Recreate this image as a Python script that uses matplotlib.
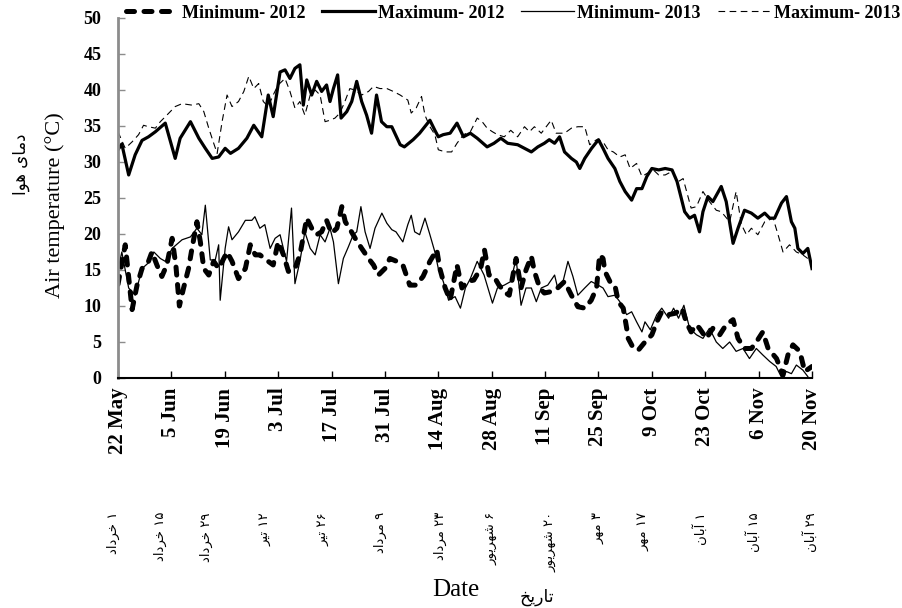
import matplotlib
matplotlib.use("Agg")
import matplotlib.pyplot as plt
import matplotlib.transforms as mtransforms

# ---------------- data (day 0 = 22 May) ----------------
tick_days = [0, 14, 28, 42, 56, 70, 84, 98, 112, 126, 140, 154, 168, 182]
tick_labels = ["22 May", "5 Jun", "19 Jun", "3 Jul", "17 Jul", "31 Jul", "14 Aug",
               "28 Aug", "11 Sep", "25 Sep", "9 Oct", "23 Oct", "6 Nov", "20 Nov"]
persian_labels = ["۱ خرداد", "۱۵ خرداد", "۲۹ خرداد", "۱۲ تیر", "۲۶ تیر", "۹ مرداد",
                  "۲۳ مرداد", "۶ شهریور", "۲۰ شهریور", "۳ مهر", "۱۷ مهر", "۱ آبان",
                  "۱۵ آبان", "۲۹ آبان"]
y_ticks = [0, 5, 10, 15, 20, 25, 30, 35, 40, 45, 50]

max2012_day = [0, 1.0, 2.8, 4.5, 6.3, 8.0, 9.8, 12.4, 15.0, 16.3, 19.0, 21.2, 22.9, 24.7, 26.4,
               28.1, 29.5, 31.6, 33.8, 35.6,
               37.7, 39.4, 40.7, 42.5, 43.8, 45.1, 46.4, 47.7, 48.6, 49.5, 50.8, 52.1, 53.4, 54.7,
               55.6, 56.5, 57.6, 58.5, 60.0, 61.3, 62.6, 63.9, 65.2, 66.5, 67.8, 69.1, 70.5, 71.8, 74.0,
               75.1, 77.4, 79.1, 81.8, 83.1, 84.0, 85.3, 87.1, 88.9, 90.6, 92.4, 94.2, 96.8, 98.6,
               100.4, 102.2, 104.8, 106.6, 108.4, 110.1,
               111.8, 113.1, 114.5, 115.8, 117.1, 118.9, 120.2, 121.1, 122.4, 124.2, 126.0, 127.2,
               128.5, 130.3, 131.6, 133.0, 134.7, 136.0, 137.4, 138.7, 140.0, 141.8, 143.5, 145.3, 146.6,
               147.7, 148.6, 149.9, 151.2, 152.5, 153.4, 154.7, 156.0, 158.2, 159.5, 161.3, 162.6,
               164.3, 166.1, 167.8, 169.6, 170.9, 172.2, 174.0, 175.3, 176.6, 177.5, 178.3, 179.6,
               180.9, 182]
max2012_val = [31.7, 32.5, 28.2, 31.0, 33.0, 33.5, 34.2, 35.4, 30.5, 33.3, 35.6, 33.3, 31.9, 30.5, 30.7,
               31.9, 31.2, 31.9, 33.3, 35.1,
               33.5, 39.3, 36.3, 42.5, 42.8, 41.6, 43.0, 43.5, 37.9, 41.4, 39.3, 41.2, 39.8, 40.7,
               38.4, 40.2, 42.1, 36.1, 37.0, 38.4, 41.2, 38.4, 36.5, 34.0, 39.3, 35.6, 34.9, 34.9, 32.4,
               32.1, 33.1, 34.0, 35.8, 34.4, 33.5, 33.8, 34.0, 35.4, 33.5, 34.0, 33.3, 32.1, 32.6,
               33.3, 32.6, 32.4, 31.9, 31.4, 32.1,
               32.6, 33.1, 32.6, 33.5, 31.4, 30.5, 30.0, 29.1, 30.5, 31.9, 33.1, 31.9,
               30.5, 29.1, 27.3, 25.9, 24.7, 26.3, 26.3, 28.0, 29.1, 28.9, 29.1, 28.9, 27.3,
               25.0, 23.1, 22.2, 22.6, 20.3, 23.1, 25.2, 24.5, 26.6, 24.5, 18.7, 20.8,
               23.3, 22.9, 22.2, 22.9, 22.2, 22.2, 24.3, 25.2, 21.7, 20.8, 18.0, 17.3,
               18.0, 15.2]

max2013_day = [0, 1.9, 3.7, 5.4, 6.7, 8.0, 9.8, 11.1, 12.8, 15.0, 16.8, 19.4, 21.2, 22.5, 23.8,
               25.1, 26.0, 27.3, 28.6, 29.9, 31.6, 33.0, 34.3, 35.6, 36.9,
               38.1, 39.4, 40.7, 42.0, 43.8, 45.1, 46.4, 47.7, 49.0, 50.4, 51.7, 53.0, 54.3, 55.6,
               56.9, 58.2, 59.5, 60.8, 62.1, 63.9, 65.7, 67.0, 68.7, 70.5, 72.2, 74.0,
               76.0, 76.9, 78.2, 79.6, 80.5, 81.8, 83.1, 84.0, 85.8, 87.5, 88.9, 90.6, 92.4, 94.2,
               95.5, 96.8, 98.2, 99.5, 101.3, 103.0, 104.8, 106.6, 107.9, 109.2, 111.0,
               113.6, 114.9, 117.1, 118.9, 120.6, 122.4, 123.7, 125.5, 127.2, 128.5, 129.9, 131.6,
               133.0, 134.3, 136.0, 137.4, 138.7, 140.4, 141.8, 143.5, 145.3, 147.0,
               148.2, 150.3, 151.7, 153.4, 155.1, 156.9, 158.2, 160.4, 162.1, 163.5, 164.8, 166.1,
               167.8, 169.6, 171.8, 173.1, 174.4, 176.1, 177.9, 179.6, 180.9]
max2013_val = [34.2, 31.9, 32.8, 33.8, 35.1, 34.9, 34.7, 35.6, 36.5, 37.7, 38.1, 37.9, 38.1, 37.0, 34.7,
               32.6, 31.2, 35.6, 39.3, 37.7, 38.4, 39.8, 41.9, 40.2, 40.9,
               38.4, 37.7, 39.3, 40.7, 41.6, 39.8, 37.5, 38.4, 36.5, 39.3, 40.0, 39.3, 35.6, 35.8,
               36.1, 36.8, 38.4, 40.2, 40.0, 39.3, 39.8, 40.5, 40.2, 40.2, 39.8, 39.3,
               38.6, 36.8, 37.5, 39.1, 36.5, 34.9, 33.8, 31.7, 31.4, 31.4, 32.6, 33.8, 34.2, 36.1,
               35.6, 34.7, 34.2, 33.8, 33.5, 34.4, 33.5, 34.9, 34.2, 34.9, 34.0,
               35.8, 34.0, 34.0, 34.7, 34.9, 34.9, 32.4, 33.1, 32.8, 31.7, 31.4, 30.7,
               31.0, 29.1, 29.8, 28.0, 28.4, 28.9, 28.2, 28.2, 28.7, 27.3,
               27.7, 23.6, 23.8, 25.9, 24.5, 23.3, 23.1, 21.7, 25.9, 21.3, 19.9, 20.8,
               19.9, 21.7, 22.2, 19.9, 17.5, 18.5, 17.5, 17.1, 16.6]

min2012_day = [0, 1.9, 3.7, 5.0, 6.3, 8.0, 8.9, 10.2, 11.5, 12.8, 14.2, 15.2, 16.1, 17.2, 18.5,
               19.4, 20.7, 21.6, 22.5, 23.8, 25.1, 26.4, 28.6, 29.9, 31.6, 33.4, 34.7, 36.0,
               37.2, 39.4, 40.7, 42.0, 43.4, 44.7, 46.4, 47.7, 49.5, 50.8, 52.1, 53.4, 54.7, 56.0,
               57.4, 58.7, 59.6, 60.9, 62.2, 63.9, 65.7, 67.0, 68.3, 70.0, 71.3, 73.1,
               74.7, 76.5, 78.2, 80.0, 81.8, 83.6, 84.4, 85.8, 87.1, 88.9, 90.2, 91.5, 93.3, 95.1,
               96.1, 97.3, 98.6, 99.9, 101.7, 102.6, 104.4, 105.7, 107.0, 108.4, 109.2, 110.6,
               111.8, 113.6, 115.3, 117.1, 118.9, 120.6, 122.4, 124.1, 125.5, 126.3, 127.2, 127.7,
               129.0, 130.3, 131.2, 132.5, 133.4, 133.8, 135.2, 136.5, 138.2, 140.0, 141.3, 142.6,
               144.4, 146.2, 147.9,
               149.0, 150.3, 151.7, 152.5, 154.3, 156.0, 157.8, 159.5, 161.3, 162.6, 164.3, 166.1,
               167.4, 169.1, 170.5, 172.7, 174.4, 175.7, 177.0, 178.8, 180.1, 182]
min2012_val = [13.0, 18.5, 9.5, 12.9, 15.2, 16.2, 17.5, 15.7, 14.1, 15.7, 19.4, 15.5, 10.0, 12.5, 15.2,
               18.0, 21.7, 18.9, 15.2, 14.3, 16.2, 15.2, 17.5, 16.2, 13.8, 15.2, 18.5, 17.1,
               17.1, 16.2, 15.7, 18.9, 17.1, 14.8, 15.2, 17.1, 22.2, 20.8, 19.9, 20.3, 21.9, 20.1,
               20.8, 23.8, 21.7, 20.6, 19.4, 18.0, 16.6, 15.7, 14.3, 15.2, 16.6, 16.2,
               15.7, 12.9, 12.9, 14.1, 16.2, 17.8, 15.2, 12.5, 10.8, 15.7, 12.5, 13.4, 13.6, 15.2,
               17.8, 14.3, 14.1, 12.9, 11.8, 11.5, 16.6, 12.5, 15.0, 16.9, 14.8, 12.5,
               11.8, 12.0, 12.5, 13.4, 11.5, 9.9, 9.7, 10.8, 12.5, 17.1, 16.6, 14.8,
               13.4, 12.9, 10.6, 9.7, 6.9, 5.5, 4.1, 3.9, 5.0, 6.0, 7.8, 9.2,
               8.8, 9.0, 9.7,
               7.8, 6.4, 7.4, 6.9, 5.5, 6.9, 6.0, 7.4, 8.1, 5.5, 4.1, 4.1,
               5.0, 6.4, 4.1, 2.7, 0.4, 3.2, 4.6, 3.7, 0.9, 1.6]

min2013_day = [0, 1.0, 2.8, 4.5, 6.3, 8.0, 9.4, 11.1, 12.4, 14.2, 16.8, 19.0, 20.7, 22.0, 22.9,
               24.2, 25.5, 26.4, 26.8, 28.1, 29.0, 29.9, 31.6, 33.4, 35.1,
               35.9, 37.2, 38.5, 39.9, 41.2, 42.5, 44.2, 45.5, 46.4, 47.7, 49.0, 50.4, 51.7, 53.0,
               54.3, 55.6, 56.5, 57.8, 59.1, 60.4, 61.7, 62.6, 63.7, 64.8, 66.1, 67.4, 69.2, 70.5, 71.8,
               72.9, 74.7, 76.0, 76.9, 77.8, 79.1, 80.5, 81.8, 83.1, 84.0, 85.3, 86.7, 88.4, 89.8,
               91.1, 92.4, 94.2, 96.0, 98.2, 99.5, 101.3, 103.0, 104.4, 105.7, 107.0, 108.4, 109.7, 111.0,
               112.7, 114.5, 115.3, 116.7, 118.0, 119.3, 120.6, 122.4, 124.1, 125.9, 127.2, 128.5,
               130.3, 131.6, 133.4, 134.7, 136.0, 137.4, 138.2, 139.6, 141.3, 142.6, 144.4, 145.7,
               147.0, 148.4,
               149.9, 151.7, 153.4, 155.1, 156.9, 158.6, 160.4, 162.1, 163.9, 165.6, 167.4, 169.1,
               170.9, 172.6, 173.9, 175.3, 176.6, 177.9, 179.6, 180.9]
min2013_val = [15.0, 17.5, 12.5, 11.5, 15.2, 16.0, 17.5, 16.6, 16.2, 18.0, 19.2, 19.6, 20.8, 19.9, 24.0,
               16.4, 16.4, 18.5, 10.8, 18.0, 21.0, 19.2, 20.3, 21.9, 21.9,
               22.4, 20.8, 21.3, 18.0, 19.4, 19.9, 16.2, 23.6, 13.1, 16.2, 20.3, 18.0, 17.1, 19.9,
               18.9, 20.8, 18.9, 13.1, 16.6, 18.2, 19.9, 20.3, 23.8, 20.3, 18.0, 20.8, 22.9, 21.5, 20.6,
               20.3, 18.9, 21.3, 22.6, 20.3, 19.9, 22.2, 19.9, 17.5, 15.2, 13.4, 10.8, 11.3, 9.7,
               12.5, 13.8, 16.2, 14.3, 10.4, 12.5, 12.9, 13.4, 16.6, 10.1, 12.5, 12.5, 10.6, 12.5,
               12.9, 14.3, 12.5, 13.4, 16.2, 14.1, 11.5, 12.5, 13.4, 12.9, 12.5, 11.3,
               11.5, 10.6, 8.8, 9.2, 7.8, 6.4, 7.8, 6.7, 8.8, 9.7, 8.3, 9.7,
               8.3, 10.1,
               6.9, 6.0, 5.5, 6.9, 5.0, 4.1, 5.0, 3.7, 4.1, 2.7, 4.1, 3.2,
               2.3, 1.6, 0.2, 0.9, 0.6, 1.8, 1.1, 0.2]

series_labels = ["Minimum- 2012", "Maximum- 2012", "Minimum- 2013", "Maximum- 2013"]

# layout only: horizontal pixel nudges of the Persian date labels relative to their ticks
persian_nudge_px = [-5, -11, -18, -13, -9, -5, 2, 0, 5, 0, -9, -5, -5, -2]

# ---------------- Persian shaping (matplotlib has no Arabic shaping) ----------------
_FORMS = {
    'ا': ('\uFE8D', '\uFE8E', None, None),
    'آ': ('\uFE81', '\uFE82', None, None),
    'ب': ('\uFE8F', '\uFE90', '\uFE91', '\uFE92'),
    'ت': ('\uFE95', '\uFE96', '\uFE97', '\uFE98'),
    'خ': ('\uFEA5', '\uFEA6', '\uFEA7', '\uFEA8'),
    'د': ('\uFEA9', '\uFEAA', None, None),
    'ر': ('\uFEAD', '\uFEAE', None, None),
    'ز': ('\uFEAF', '\uFEB0', None, None),
    'ش': ('\uFEB5', '\uFEB6', '\uFEB7', '\uFEB8'),
    'م': ('\uFEE1', '\uFEE2', '\uFEE3', '\uFEE4'),
    'ن': ('\uFEE5', '\uFEE6', '\uFEE7', '\uFEE8'),
    'ه': ('\uFEE9', '\uFEEA', '\uFEEB', '\uFEEC'),
    'و': ('\uFEED', '\uFEEE', None, None),
    'ی': ('\uFEEF', '\uFEF0', '\uFEF3', '\uFEF4'),
}


def _shape_word(w):
    out = []
    for i, ch in enumerate(w):
        if ch not in _FORMS:
            out.append(ch)
            continue
        prev = w[i - 1] if i > 0 else None
        nxt = w[i + 1] if i + 1 < len(w) else None
        jp = prev in _FORMS and _FORMS[prev][2] is not None
        jn = nxt in _FORMS and _FORMS[ch][2] is not None
        iso, fin, ini, med = _FORMS[ch]
        if jp and jn:
            out.append(med)
        elif jp:
            out.append(fin)
        elif jn:
            out.append(ini)
        else:
            out.append(iso)
    return ''.join(out)


def fa(text):
    tokens = text.split(' ')
    vis = []
    for t in reversed(tokens):
        if all('\u06F0' <= c <= '\u06F9' for c in t):
            vis.append(t)
        else:
            vis.append(_shape_word(t)[::-1])
    return ' '.join(vis)


# ---------------- figure ----------------
SERIF = "Liberation Serif"
FA_FONT = ["DejaVu Sans"]
W, H = 903, 608
fig = plt.figure(figsize=(W / 100, H / 100), dpi=100)
ax = fig.add_axes([118 / W, 1 - 378 / H, (812 - 118) / W, 360 / H])

l_min12, = ax.plot(min2012_day, min2012_val, color="black", lw=3.6,
                   linestyle=(0, (1.6, 1.9)), dash_capstyle="round", solid_capstyle="round")
l_max12, = ax.plot(max2012_day, max2012_val, color="black", lw=2.3)
l_min13, = ax.plot(min2013_day, min2013_val, color="black", lw=0.9)
l_max13, = ax.plot(max2013_day, max2013_val, color="black", lw=0.8, linestyle=(0, (6, 4)))

ax.set_xlim(0, 182)
ax.set_ylim(0, 50)
ax.set_xticks(tick_days)
ax.set_xticklabels(tick_labels, rotation=90, fontfamily=SERIF, fontweight="bold", fontsize=15)
ax.set_yticks(y_ticks)
ax.set_yticklabels([str(v) for v in y_ticks], fontfamily=SERIF, fontweight="bold", fontsize=13)
ax.tick_params(axis="x", direction="in", length=5, width=1, pad=7, colors="black")
ax.tick_params(axis="y", direction="in", length=5, width=1, pad=12, color="#8c8c8c",
               labelcolor="black")
for s in ("top", "right"):
    ax.spines[s].set_visible(False)
ax.spines["left"].set_color("#8c8c8c")
ax.spines["left"].set_linewidth(2)
ax.spines["bottom"].set_color("black")
ax.spines["bottom"].set_linewidth(1.5)

# Persian date labels
base = mtransforms.blended_transform_factory(ax.transData, ax.transAxes)
for d, lab, nudge in zip(tick_days, persian_labels, persian_nudge_px):
    tr = base + mtransforms.ScaledTranslation(nudge / 100, 0, fig.dpi_scale_trans)
    ax.text(d, (378 - 512) / 360, fa(lab), transform=tr, rotation=90,
            ha="center", va="top", fontsize=9.5, family=FA_FONT)

# axis titles
fig.text(456 / W, 1 - 590 / H, "Date", ha="center", va="center", fontsize=18, family=SERIF)
fig.text(537 / W, 1 - 597 / H, fa("تاریخ"), ha="center", va="center", fontsize=12.5, family=FA_FONT)
fig.text(55 / W, 1 - 205 / H, "Air temperature (°C)", rotation=90, ha="center", va="center",
         fontsize=16, family=SERIF)
fig.text(21 / W, 1 - 164 / H, fa("دمای هوا"), rotation=90, ha="center", va="center",
         fontsize=12, family=FA_FONT)

# legend
fig.legend([l_min12, l_max12, l_min13, l_max13], series_labels, ncol=4, mode="expand",
           loc="center", bbox_to_anchor=(126 / W, 1 - 24 / H, (900 - 126) / W, 22 / H),
           frameon=False, borderaxespad=0, borderpad=0, handlelength=2.9, handletextpad=0.2,
           columnspacing=0.5, prop={"family": SERIF, "weight": "bold", "size": 13})

fig.savefig("out.png", dpi=100)
